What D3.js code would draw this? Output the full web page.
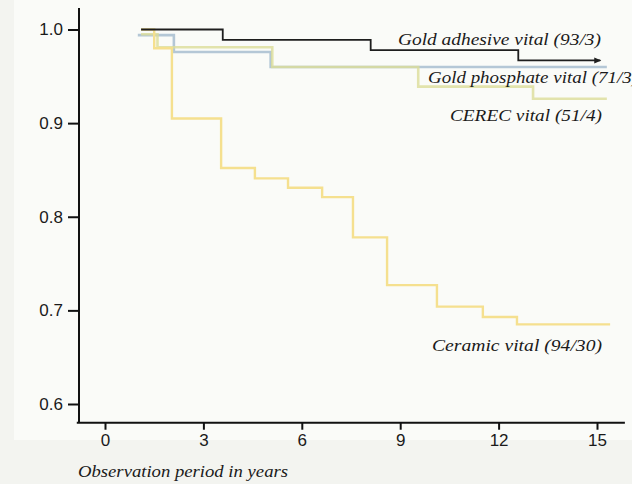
<!DOCTYPE html>
<html>
<head>
<meta charset="utf-8">
<script src="https://cdn.jsdelivr.net/npm/d3@7"></script>
<style>
  html, body { margin: 0; padding: 0; background: #f3f4f0; }
  svg { display: block; }
</style>
</head>
<body>
<svg id="chart" width="632" height="484"></svg>
<script>
// ---- data ----
const xTicks = [0, 3, 6, 9, 12, 15];
const yTicks = [0.6, 0.7, 0.8, 0.9, 1.0];

const goldAdhesiveTimes  = [1.1, 3.59, 8.1, 12.6, 15.1];
const goldAdhesiveValues = [1.0, 0.989, 0.978, 0.967, 0.967];

const goldPhosphateTimes  = [1.0, 2.1, 5.05, 15.3];
const goldPhosphateValues = [0.994, 0.976, 0.960, 0.960];

const cerecTimes  = [1.1, 1.6, 5.1, 9.55, 13.05, 15.3];
const cerecValues = [0.995, 0.981, 0.960, 0.939, 0.926, 0.926];

const ceramicTimes  = [1.1, 1.5, 2.04, 3.54, 4.57, 5.58, 6.62, 7.56, 8.6, 10.12, 11.52, 12.56, 15.4];
const ceramicValues = [1.0, 0.98, 0.905, 0.852, 0.841, 0.831, 0.821, 0.778, 0.727, 0.704, 0.693, 0.685, 0.685];

const seriesNames = ["Gold adhesive vital (93/3)", "Gold phosphate vital (71/3)", "CEREC vital (51/4)", "Ceramic vital (94/30)"];
const xAxisTitle = "Observation period in years";

// ---- layout ----
const svg = d3.select("#chart");
const x = d3.scaleLinear().domain([0, 15]).range([105, 597]);
const y = d3.scaleLinear().domain([0.6, 1.0]).range([404, 29.5]);

// background (scanned paper)
svg.append("rect").attr("x", 14).attr("y", 0).attr("width", 618).attr("height", 440).attr("fill", "#fafbf8");

const line = d3.line().x(d => x(d[0])).y(d => y(d[1])).curve(d3.curveStepAfter);
const zip = (t, v) => t.map((ti, i) => [ti, v[i]]);

// series
svg.append("path").datum(zip(goldPhosphateTimes, goldPhosphateValues))
  .attr("d", line).attr("fill", "none").attr("stroke", "#b4c7d6").attr("stroke-width", 2.6);
svg.append("path").datum(zip(cerecTimes, cerecValues))
  .attr("d", line).attr("fill", "none").attr("stroke", "#dcdd98").attr("stroke-width", 2.6).attr("stroke-opacity", 0.8);
svg.append("path").datum(zip(ceramicTimes, ceramicValues))
  .attr("d", line).attr("fill", "none").attr("stroke", "#f5e08f").attr("stroke-width", 2.4);
svg.append("path").datum(zip(goldAdhesiveTimes, goldAdhesiveValues))
  .attr("d", line).attr("fill", "none").attr("stroke", "#1e1e1e").attr("stroke-width", 1.8);

// arrow head on gold adhesive
const lastT = goldAdhesiveTimes[goldAdhesiveTimes.length - 1];
const lastV = goldAdhesiveValues[goldAdhesiveValues.length - 1];
const ax = x(lastT), ay = y(lastV);
svg.append("path").attr("d", `M${ax - 6},${ay - 3} L${ax + 1},${ay} L${ax - 6},${ay + 3} Z`).attr("fill", "#1e1e1e");

// axes lines
svg.append("line").attr("x1", 79).attr("x2", 79).attr("y1", y(1.023)).attr("y2", y(0.58))
  .attr("stroke", "#111").attr("stroke-width", 2);
svg.append("line").attr("x1", x(-0.86)).attr("x2", x(15.85)).attr("y1", y(0.58)).attr("y2", y(0.58))
  .attr("stroke", "#111").attr("stroke-width", 2);

// y axis ticks
const yAxis = d3.axisLeft(y).tickValues(yTicks).tickFormat(d3.format(".1f")).tickSize(11).tickPadding(5);
const gy = svg.append("g").attr("transform", "translate(79,0)").call(yAxis);
gy.select(".domain").remove();
gy.selectAll("line").attr("stroke", "#111").attr("stroke-width", 2);
gy.selectAll("text").attr("font-family", "Liberation Sans, Arial, sans-serif").attr("font-size", 17).attr("fill", "#1a1a1a");

// x axis ticks
const xAxis = d3.axisBottom(x).tickValues(xTicks).tickFormat(d3.format("d")).tickSize(7).tickPadding(4);
const gx = svg.append("g").attr("transform", `translate(0,${y(0.58)})`).call(xAxis);
gx.select(".domain").remove();
gx.selectAll("line").attr("stroke", "#111").attr("stroke-width", 2);
gx.selectAll("text").attr("font-family", "Liberation Sans, Arial, sans-serif").attr("font-size", 17).attr("fill", "#1a1a1a");

// series labels
const labelFont = "Liberation Serif, Times New Roman, serif";
const labels = [
  { text: seriesNames[0], x: 398, y: 45, w: 203 },
  { text: seriesNames[1], x: 428, y: 83, w: 210 },
  { text: seriesNames[2], x: 450, y: 121, w: 152 },
  { text: seriesNames[3], x: 432, y: 351, w: 170 }
];
labels.forEach(l => {
  svg.append("text").attr("x", l.x).attr("y", l.y).text(l.text)
    .attr("font-family", labelFont).attr("font-style", "italic").attr("font-size", 17)
    .attr("fill", "#1a1a1a").attr("textLength", l.w).attr("lengthAdjust", "spacingAndGlyphs");
});

svg.append("text").attr("x", 78).attr("y", 477).text(xAxisTitle)
  .attr("font-family", labelFont).attr("font-style", "italic").attr("font-size", 16)
  .attr("fill", "#1a1a1a").attr("textLength", 210).attr("lengthAdjust", "spacingAndGlyphs");
</script>
</body>
</html>
